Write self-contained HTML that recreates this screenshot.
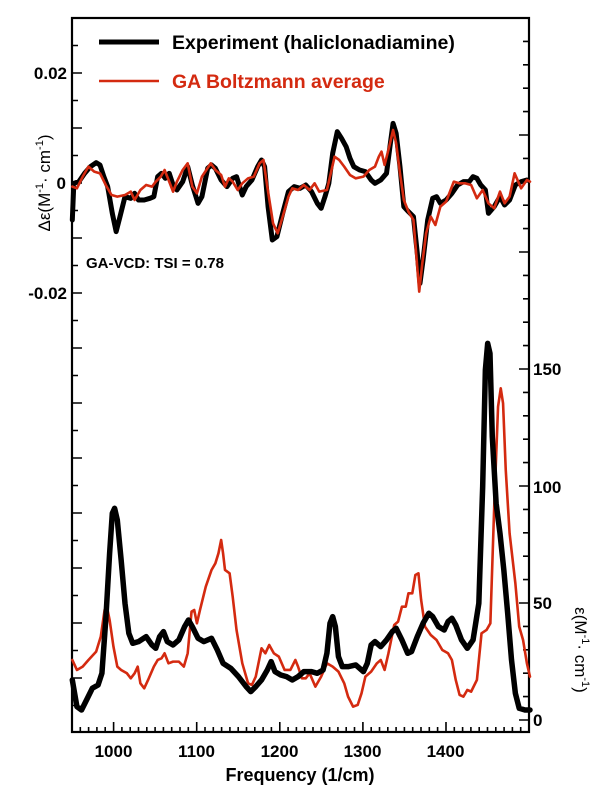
<!DOCTYPE html>
<html><head><meta charset="utf-8"><style>
html,body{margin:0;padding:0;background:#fff;}
svg{display:block;font-family:"Liberation Sans",Arial,sans-serif;}
</style></head><body>
<svg width="600" height="792" viewBox="0 0 600 792" xmlns="http://www.w3.org/2000/svg">
<rect x="0" y="0" width="600" height="792" fill="#fff"/>
<rect x="72" y="18" width="457" height="714" fill="none" stroke="#000" stroke-width="2.2"/>
<g stroke="#000" stroke-width="1.6" fill="none">
<!-- left ticks -->
<path d="M72 45.5h6M72 73h10M72 100.5h6M72 128h10M72 155.5h6M72 183h10M72 210.5h6M72 238h10M72 265.5h6M72 293h10M72 320.5h6M72 348h10M72 375.5h6M72 403h10M72 430.5h6M72 458h10M72 485.5h6M72 513h10M72 540.5h6M72 568h10M72 595.5h6M72 623h10M72 650.5h6M72 678h10M72 705.5h6"/>
<!-- right ticks -->
<path d="M529 720h-10M529 696.6h-6M529 673.2h-6M529 649.8h-6M529 626.4h-6M529 603h-10M529 579.6h-6M529 556.2h-6M529 532.8h-6M529 509.4h-6M529 486h-10M529 462.6h-6M529 439.2h-6M529 415.8h-6M529 392.4h-6M529 369h-10M529 345.6h-6M529 322.2h-6M529 298.8h-6M529 275.4h-6M529 252h-10M529 228.6h-6M529 205.2h-6M529 181.8h-6M529 158.4h-6M529 135h-10M529 111.6h-6M529 88.2h-6M529 64.8h-6M529 41.4h-6"/>
<!-- bottom ticks -->
<path d="M80.3 732v-5M88.6 732v-5M96.9 732v-5M105.2 732v-5M113.6 732v-10M121.9 732v-5M130.2 732v-5M138.5 732v-5M146.8 732v-5M155.1 732v-5M163.4 732v-5M171.7 732v-5M180 732v-5M188.3 732v-5M196.7 732v-10M205 732v-5M213.3 732v-5M221.6 732v-5M229.9 732v-5M238.2 732v-5M246.5 732v-5M254.8 732v-5M263.1 732v-5M271.4 732v-5M279.8 732v-10M288.1 732v-5M296.4 732v-5M304.7 732v-5M313 732v-5M321.3 732v-5M329.6 732v-5M337.9 732v-5M346.2 732v-5M354.5 732v-5M362.9 732v-10M371.2 732v-5M379.5 732v-5M387.8 732v-5M396.1 732v-5M404.4 732v-5M412.7 732v-5M421 732v-5M429.3 732v-5M437.6 732v-5M446 732v-10M454.3 732v-5M462.6 732v-5M470.9 732v-5M479.2 732v-5M487.5 732v-5M495.8 732v-5M504.1 732v-5M512.4 732v-5M520.7 732v-5"/>
</g>

<g transform="translate(0,320) scale(0.3846,0.3333)" fill="none" stroke-linejoin="round" stroke-linecap="round">
<polyline vector-effect="non-scaling-stroke" stroke="#d42a10" stroke-width="2.6" points="188,1020 200,1050 215,1040 230,1020 250,995 262,950 272,870 278,860 285,900 295,980 305,1040 315,1050 330,1060 340,1075 350,1060 358,1040 365,1090 375,1105 385,1080 400,1040 410,1020 420,1015 428,1000 438,1030 450,1025 465,1025 478,1040 488,1000 498,875 505,870 512,910 520,870 535,800 550,750 560,730 568,700 575,660 580,700 585,750 597,760 605,830 615,930 630,1030 645,1090 655,1095 665,1070 680,985 690,1000 700,975 712,1000 725,1010 740,1050 755,1050 768,1020 775,1040 785,1075 795,1075 805,1060 820,1100 835,1070 850,1030 865,1040 880,1055 895,1090 905,1130 918,1160 930,1155 940,1120 950,1070 965,1055 980,1030 990,1020 1000,1050 1010,1000 1025,915 1035,905 1045,860 1055,860 1062,820 1072,820 1080,765 1088,760 1095,840 1105,920 1120,945 1135,960 1150,990 1165,1000 1175,1020 1185,1080 1195,1125 1205,1130 1215,1110 1225,1115 1240,1080 1252,940 1265,930 1275,910 1285,560 1295,260 1302,205 1308,250 1315,450 1325,640 1340,790 1350,920 1360,960 1370,1030 1378,1070"/>
<polyline vector-effect="non-scaling-stroke" stroke="#000" stroke-width="5.5" points="188,1080 200,1160 212,1170 225,1140 240,1105 255,1095 265,1060 275,900 285,700 292,580 298,565 305,600 315,720 325,850 335,940 345,970 360,965 380,950 395,975 405,985 415,950 425,935 435,965 450,975 465,960 480,920 490,900 500,920 515,955 530,965 550,955 565,990 580,1030 600,1045 620,1070 640,1100 652,1115 665,1100 680,1080 695,1050 705,1025 715,1055 730,1065 745,1070 760,1080 775,1070 790,1055 810,1055 825,1060 840,1050 850,1000 858,910 865,890 872,920 880,1010 890,1040 905,1040 925,1035 935,1045 945,1055 955,1030 965,975 975,965 990,980 1005,960 1020,935 1030,925 1045,960 1060,1000 1070,995 1085,950 1100,910 1115,880 1125,890 1140,920 1155,930 1165,905 1175,895 1185,915 1200,960 1215,985 1230,960 1245,850 1255,500 1262,150 1268,70 1274,100 1280,350 1290,550 1300,640 1310,750 1320,880 1330,1020 1340,1120 1350,1165 1365,1170 1378,1170"/>
</g>
<g transform="scale(0.3846,0.3333)" fill="none" stroke-linejoin="round" stroke-linecap="round">
<polyline vector-effect="non-scaling-stroke" stroke="#000" stroke-width="5" points="188,660 192,550 205,545 220,520 235,500 250,488 260,495 270,530 280,560 292,640 302,695 312,650 325,590 340,595 350,580 360,600 375,600 390,595 400,590 410,530 420,520 430,535 440,520 450,555 460,570 475,545 488,500 500,555 515,610 525,590 540,505 550,495 560,505 575,540 590,560 605,535 615,530 630,585 640,560 655,540 670,500 680,480 688,500 697,620 708,720 720,710 735,640 750,575 765,560 780,565 795,555 810,575 825,610 835,625 845,590 855,550 865,460 877,395 888,415 900,440 910,475 920,500 935,510 950,515 965,540 975,550 990,540 1005,520 1015,430 1022,370 1030,400 1040,500 1050,620 1062,635 1075,650 1085,760 1092,850 1100,780 1112,660 1125,595 1135,590 1145,610 1160,600 1175,580 1190,555 1205,545 1220,545 1230,530 1240,535 1250,555 1262,570 1270,640 1285,620 1300,590 1312,615 1325,600 1340,555 1355,545 1370,540"/>
<polyline vector-effect="non-scaling-stroke" stroke="#d42a10" stroke-width="2.6" points="188,560 200,565 215,530 230,500 245,515 260,520 275,555 290,585 305,590 325,585 340,575 350,600 365,570 380,555 395,560 405,545 418,530 428,510 440,545 450,575 460,545 475,510 488,490 500,560 512,580 525,530 548,490 560,510 575,525 585,560 595,535 605,545 618,570 630,550 645,535 660,530 675,490 685,480 695,560 710,670 722,700 735,650 750,590 760,565 775,570 790,555 805,570 818,550 830,575 850,570 860,520 870,470 882,480 895,500 910,525 925,535 945,530 960,510 975,500 985,470 992,455 1000,495 1012,440 1022,390 1030,430 1040,520 1050,600 1062,635 1075,660 1082,760 1090,875 1098,790 1108,700 1120,650 1132,675 1145,620 1160,605 1180,545 1195,550 1210,550 1225,555 1240,595 1255,570 1270,610 1285,625 1300,575 1312,610 1325,590 1338,520 1355,565 1370,540 1378,545"/>
</g>

<line x1="99" y1="42" x2="159" y2="42" stroke="#000" stroke-width="5"/>
<text x="172" y="49" font-size="19.5" font-weight="bold" fill="#000">Experiment (haliclonadiamine)</text>
<line x1="99" y1="81" x2="159" y2="81" stroke="#d42a10" stroke-width="2.6"/>
<text x="172" y="88" font-size="19.5" font-weight="bold" fill="#d42a10">GA Boltzmann average</text>
<text x="86" y="268" font-size="15" font-weight="bold">GA-VCD: TSI = 0.78</text>

<g font-size="17" font-weight="bold" text-anchor="end">
<text x="67" y="79">0.02</text>
<text x="66" y="189">0</text>
<text x="67" y="299">-0.02</text>
</g>
<text transform="translate(50,183) rotate(-90)" font-size="17" text-anchor="middle">Δε(M<tspan font-size="11" dy="-7">-1</tspan><tspan dy="7">· cm</tspan><tspan font-size="11" dy="-7">-1</tspan><tspan dy="7">)</tspan></text>

<g font-size="17" font-weight="bold" text-anchor="start">
<text x="533" y="375">150</text>
<text x="533" y="493">100</text>
<text x="533" y="609">50</text>
<text x="533" y="726">0</text>
</g>
<text transform="translate(575,650) rotate(90)" font-size="17" text-anchor="middle">ε(M<tspan font-size="11" dy="-7">-1</tspan><tspan dy="7">· cm</tspan><tspan font-size="11" dy="-7">-1</tspan><tspan dy="7">)</tspan></text>

<g font-size="17" font-weight="bold" text-anchor="middle">
<text x="113.5" y="757">1000</text>
<text x="196.5" y="757">1100</text>
<text x="279.5" y="757">1200</text>
<text x="362.5" y="757">1300</text>
<text x="445.5" y="757">1400</text>
</g>
<text x="300" y="781" font-size="18" font-weight="bold" text-anchor="middle">Frequency (1/cm)</text>
</svg>
</body></html>
